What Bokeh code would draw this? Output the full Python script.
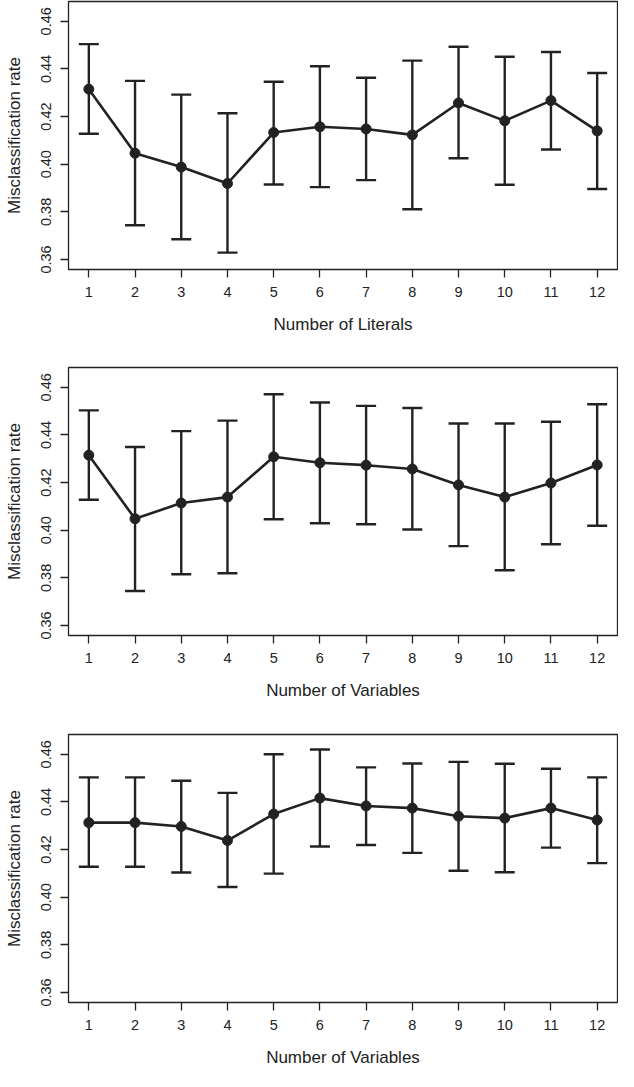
from bokeh.plotting import figure
from bokeh.layouts import column
from bokeh.models import FixedTicker, Range1d, PrintfTickFormatter
from bokeh.embed import file_html
from bokeh.resources import INLINE

x = [1, 2, 3, 4, 5, 6, 7, 8, 9, 10, 11, 12]

lit_mean = [0.4315, 0.4046, 0.3988, 0.3919, 0.4133, 0.4157, 0.4148, 0.4123, 0.4257, 0.4182, 0.4267, 0.4140]
lit_upper = [0.4504, 0.4350, 0.4292, 0.4214, 0.4346, 0.4411, 0.4363, 0.4435, 0.4493, 0.4451, 0.4471, 0.4383]
lit_lower = [0.4128, 0.3744, 0.3685, 0.3629, 0.3915, 0.3904, 0.3933, 0.3811, 0.4025, 0.3914, 0.4062, 0.3896]

var_mean = [0.4315, 0.4048, 0.4114, 0.4139, 0.4308, 0.4283, 0.4273, 0.4257, 0.4190, 0.4139, 0.4198, 0.4274]
var_upper = [0.4503, 0.4349, 0.4416, 0.4460, 0.4571, 0.4536, 0.4522, 0.4513, 0.4448, 0.4448, 0.4455, 0.4529]
var_lower = [0.4128, 0.3745, 0.3815, 0.3819, 0.4046, 0.4029, 0.4025, 0.4003, 0.3933, 0.3832, 0.3941, 0.4019]

var2_mean = [0.4313, 0.4313, 0.4297, 0.4238, 0.4349, 0.4416, 0.4383, 0.4374, 0.4340, 0.4332, 0.4374, 0.4324]
var2_upper = [0.4503, 0.4503, 0.4489, 0.4438, 0.4600, 0.4620, 0.4545, 0.4561, 0.4568, 0.4560, 0.4539, 0.4503]
var2_lower = [0.4128, 0.4128, 0.4104, 0.4043, 0.4099, 0.4213, 0.4219, 0.4186, 0.4111, 0.4105, 0.4208, 0.4143]

y_ticks = [0.36, 0.38, 0.40, 0.42, 0.44, 0.46]
x_titles = ["Number of Literals", "Number of Variables", "Number of Variables"]
y_title = "Misclassification rate"

INK = "#222222"
FONT = "Liberation Sans"


def make_panel(mean, upper, lower, xtitle, height, bottom):
    p = figure(width=618, height=height, output_backend="svg", toolbar_location=None,
               x_range=Range1d(0.56, 12.44), y_range=Range1d(0.3558, 0.4683),
               min_border_left=68, min_border_right=1, min_border_top=1,
               min_border_bottom=bottom)
    p.grid.visible = False
    p.outline_line_color = INK
    p.outline_line_width = 1.3
    p.outline_line_alpha = 1.0
    p.background_fill_color = "white"
    p.border_fill_color = "white"

    for ax in (p.xaxis[0], p.yaxis[0]):
        ax.axis_line_color = None
        ax.major_tick_line_color = INK
        ax.major_tick_line_width = 1.3
        ax.major_tick_out = 8
        ax.major_tick_in = 0
        ax.minor_tick_line_color = None
        ax.major_label_text_font = FONT
        ax.major_label_text_font_size = "14.5px"
        ax.major_label_text_color = INK
        ax.axis_label_text_font = FONT
        ax.axis_label_text_font_size = "17px"
        ax.axis_label_text_font_style = "normal"
        ax.axis_label_text_color = INK
        ax.major_label_standoff = 9

    p.xaxis.ticker = FixedTicker(ticks=x)
    p.yaxis.ticker = FixedTicker(ticks=y_ticks)
    p.yaxis.formatter = PrintfTickFormatter(format="%.2f")
    p.yaxis.major_label_orientation = "vertical"
    p.xaxis.axis_label = xtitle
    p.yaxis.axis_label = y_title
    p.xaxis.axis_label_standoff = 15
    p.yaxis.axis_label_standoff = 15

    p.segment(x0=x, y0=lower, x1=x, y1=upper, line_color=INK, line_width=2.4)
    p.scatter(x, upper, marker="dash", size=20, line_color=INK, line_width=2.4)
    p.scatter(x, lower, marker="dash", size=20, line_color=INK, line_width=2.4)
    p.line(x, mean, line_color=INK, line_width=2.6)
    p.scatter(x, mean, marker="circle", size=10, fill_color=INK, line_color=INK)
    return p


p1 = make_panel(lit_mean, lit_upper, lit_lower, x_titles[0], 366, 97)
p2 = make_panel(var_mean, var_upper, var_lower, x_titles[1], 367, 98)
p3 = make_panel(var2_mean, var2_upper, var2_lower, x_titles[2], 338, 69)

layout = column(p1, p2, p3, spacing=0)
open("out.html", "w").write(file_html(layout, INLINE))
